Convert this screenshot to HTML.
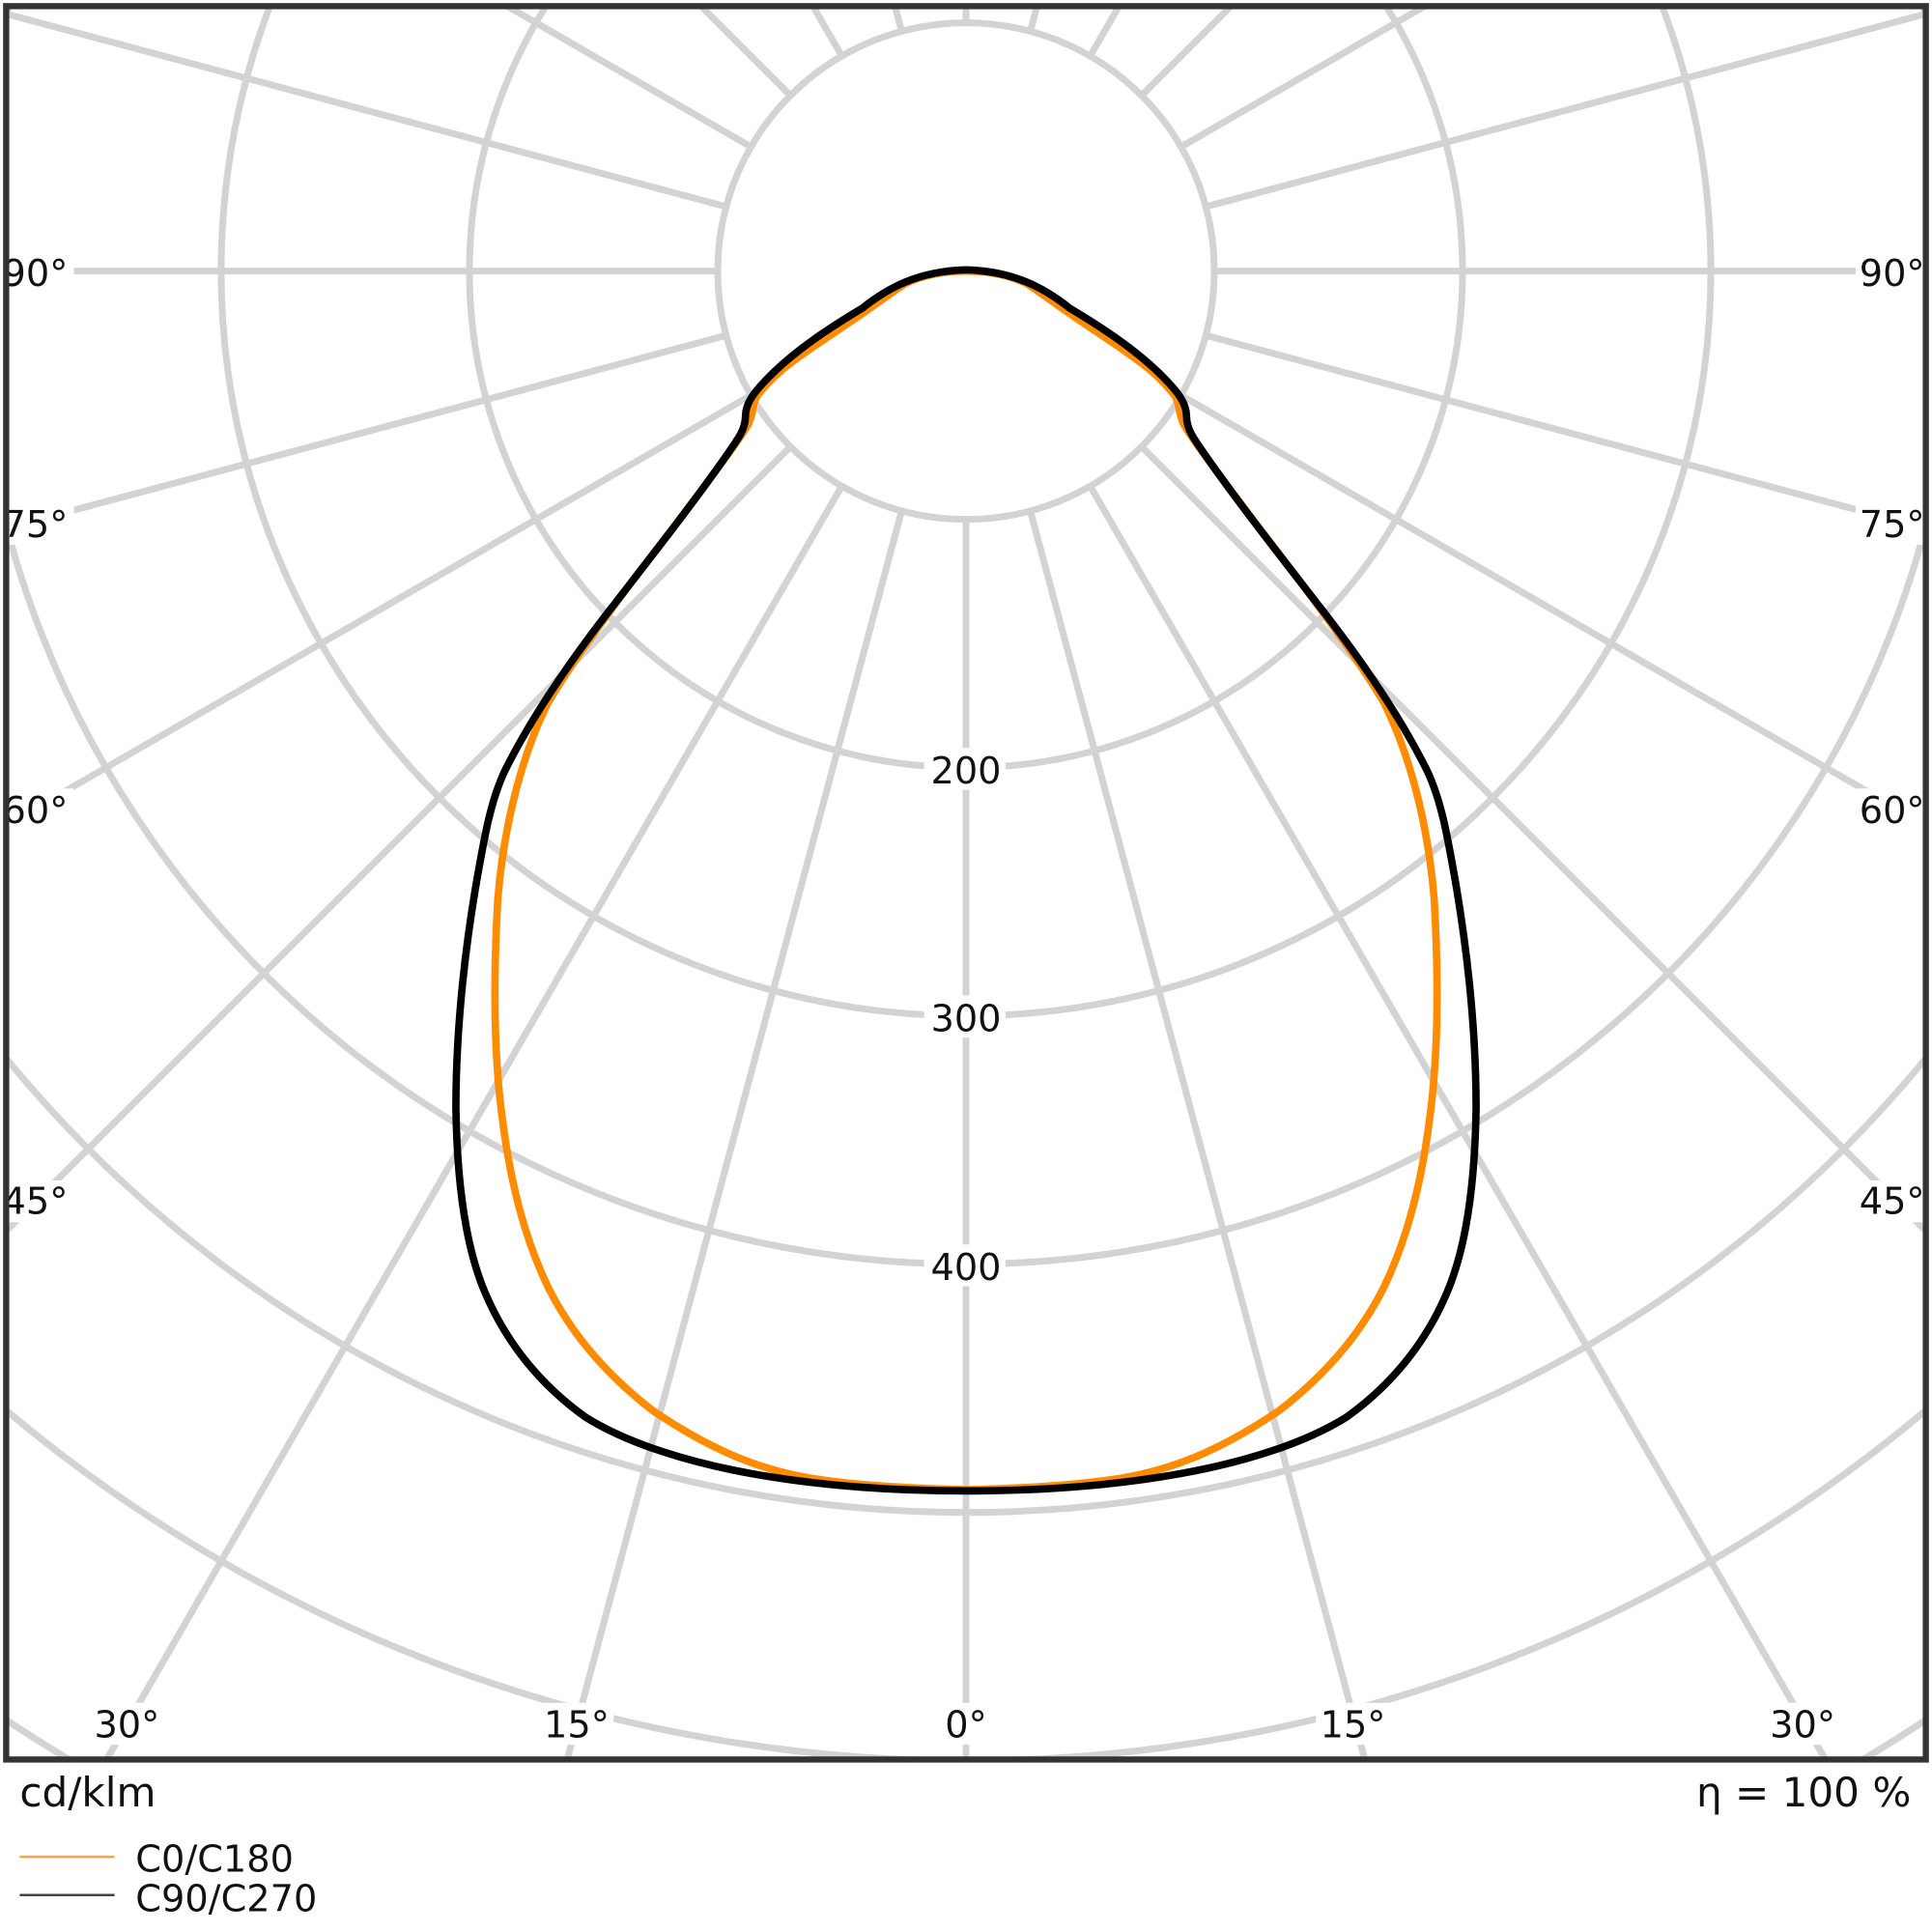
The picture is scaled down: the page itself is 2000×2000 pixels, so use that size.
<!DOCTYPE html>
<html><head><meta charset="utf-8"><style>html,body{margin:0;padding:0;background:#fff;overflow:hidden;width:2000px;height:2000px}svg{display:block}</style></head>
<body>
<svg width="2000" height="2000" viewBox="0 0 1568 1568" xmlns="http://www.w3.org/2000/svg" font-family="DejaVu Sans, Liberation Sans, sans-serif">
<defs><clipPath id="c"><rect x="5" y="5" width="1558" height="1423"/></clipPath></defs>
<rect width="1568" height="1568" fill="#fff"/>
<g clip-path="url(#c)" stroke="#d3d3d3" stroke-width="5.5" fill="none">
<circle cx="784" cy="220" r="201.5"/>
<circle cx="784" cy="220" r="403"/>
<circle cx="784" cy="220" r="604.5"/>
<circle cx="784" cy="220" r="806"/>
<circle cx="784" cy="220" r="1007.5"/>
<circle cx="784" cy="220" r="1209"/>
<circle cx="784" cy="220" r="1410.5"/>
<circle cx="784" cy="220" r="1612"/>
</g>
<g clip-path="url(#c)" stroke="#d3d3d3" stroke-width="5.5">
<line x1="784" y1="421.5" x2="784" y2="2300"/>
<line x1="784" y1="18.5" x2="784" y2="-2000"/>
<line x1="985.5" y1="220" x2="3000" y2="220"/>
<line x1="582.5" y1="220" x2="-2000" y2="220"/>
<g transform="translate(784 220)">
<line x1="52.2" y1="194.6" x2="517.6" y2="1931.9"/><line x1="-52.2" y1="194.6" x2="-517.6" y2="1931.9"/>
<line x1="52.2" y1="-194.6" x2="517.6" y2="-1931.9"/><line x1="-52.2" y1="-194.6" x2="-517.6" y2="-1931.9"/>
<line x1="100.8" y1="174.5" x2="1000" y2="1732"/><line x1="-100.8" y1="174.5" x2="-1000" y2="1732"/>
<line x1="100.8" y1="-174.5" x2="1000" y2="-1732"/><line x1="-100.8" y1="-174.5" x2="-1000" y2="-1732"/>
<line x1="142.5" y1="142.5" x2="1414" y2="1414"/><line x1="-142.5" y1="142.5" x2="-1414" y2="1414"/>
<line x1="142.5" y1="-142.5" x2="1414" y2="-1414"/><line x1="-142.5" y1="-142.5" x2="-1414" y2="-1414"/>
<line x1="174.5" y1="100.8" x2="1732" y2="1000"/><line x1="-174.5" y1="100.8" x2="-1732" y2="1000"/>
<line x1="174.5" y1="-100.8" x2="1732" y2="-1000"/><line x1="-174.5" y1="-100.8" x2="-1732" y2="-1000"/>
<line x1="194.6" y1="52.2" x2="1931.9" y2="517.6"/><line x1="-194.6" y1="52.2" x2="-1931.9" y2="517.6"/>
<line x1="194.6" y1="-52.2" x2="1931.9" y2="-517.6"/><line x1="-194.6" y1="-52.2" x2="-1931.9" y2="-517.6"/>
</g>
</g>
<g font-size="30" fill="#111">
<g fill="#fff"><rect x="750" y="607" width="66" height="34"/><rect x="750" y="808" width="66" height="34"/><rect x="750" y="1010" width="66" height="34"/></g>
<text x="784" y="636" text-anchor="middle">200</text>
<text x="784" y="837" text-anchor="middle">300</text>
<text x="784" y="1039" text-anchor="middle">400</text>
<g fill="#fff">
<rect x="5" y="203" width="55" height="34"/><rect x="5" y="408" width="55" height="34"/><rect x="5" y="640" width="55" height="34"/><rect x="5" y="958" width="55" height="34"/>
<rect x="1506" y="203" width="57" height="34"/><rect x="1506" y="408" width="57" height="34"/><rect x="1506" y="640" width="57" height="34"/><rect x="1506" y="958" width="57" height="34"/>
<rect x="73" y="1382" width="60" height="34"/><rect x="438" y="1382" width="60" height="34"/><rect x="762" y="1382" width="44" height="34"/><rect x="1068" y="1382" width="60" height="34"/><rect x="1433" y="1382" width="60" height="34"/>
</g>
<text x="2" y="232">90°</text><text x="2" y="436">75°</text><text x="2" y="668">60°</text><text x="2" y="985">45°</text>
<text x="1509" y="232">90°</text><text x="1509" y="436">75°</text><text x="1509" y="668">60°</text><text x="1509" y="985">45°</text>
<text x="103" y="1410" text-anchor="middle">30°</text><text x="468" y="1410" text-anchor="middle">15°</text><text x="784" y="1410" text-anchor="middle">0°</text><text x="1098" y="1410" text-anchor="middle">15°</text><text x="1463" y="1410" text-anchor="middle">30°</text>
</g>
<g fill="none" stroke-width="6" stroke-linejoin="round">
<path stroke="#ff8c00" d="M784,1209 C740,1208 700,1206 660,1200 C610,1192 570,1172 530,1145 C495,1118 465,1085 445,1045 C428,1010 415,965 408,910 C401,860 400,800 404,730 C408,680 420,620 445,570 C470,528 510,475 545,430 C575,390 598,360 607,345 C612,335 610,330 614,322 C630,300 655,285 680,268 C700,255 720,240 735,230 C752,222 770,220 784,220 C798,220 816,222 833,230 C848,240 868,255 888,268 C913,285 938,300 954,322 C958,330 956,335 961,345 C970,360 993,390 1023,430 C1058,475 1098,528 1123,570 C1148,620 1160,680 1164,730 C1168,800 1167,860 1160,910 C1153,965 1140,1010 1123,1045 C1103,1085 1073,1118 1038,1145 C998,1172 958,1192 908,1200 C868,1206 828,1208 784,1209"/>
<path stroke="#000" d="M784,1210 C720,1210 660,1205 610,1196 C560,1187 510,1172 475,1150 C440,1125 410,1090 392,1045 C378,1010 371,960 370,900 C370,840 376,780 386,720 C393,680 398,650 410,625 C430,585 460,540 495,495 C530,450 565,405 588,372 C600,355 605,348 605,338 C605,327 612,318 625,305 C645,285 670,268 700,250 C720,234 745,220 784,219 C823,220 848,234 868,250 C898,268 923,285 943,305 C956,318 963,327 963,338 C963,348 968,355 980,372 C1003,405 1038,450 1073,495 C1108,540 1138,585 1158,625 C1170,650 1175,680 1182,720 C1192,780 1198,840 1198,900 C1197,960 1190,1010 1176,1045 C1158,1090 1128,1125 1093,1150 C1058,1172 1008,1187 958,1196 C908,1205 848,1210 784,1210"/>
</g>
<rect x="5" y="5" width="1558" height="1423" fill="none" stroke="#333" stroke-width="5"/>
<g font-size="33" fill="#111">
<text x="16" y="1466">cd/klm</text>
<text x="1551" y="1466" text-anchor="end">η = 100 %</text>
</g>
<line x1="16" y1="1507" x2="93" y2="1507" stroke="#ffa44a" stroke-width="2"/>
<line x1="16" y1="1538" x2="93" y2="1538" stroke="#444" stroke-width="2"/>
<g font-size="30" fill="#111">
<text x="110" y="1519">C0/C180</text>
<text x="110" y="1551">C90/C270</text>
</g>
</svg>
</body></html>
